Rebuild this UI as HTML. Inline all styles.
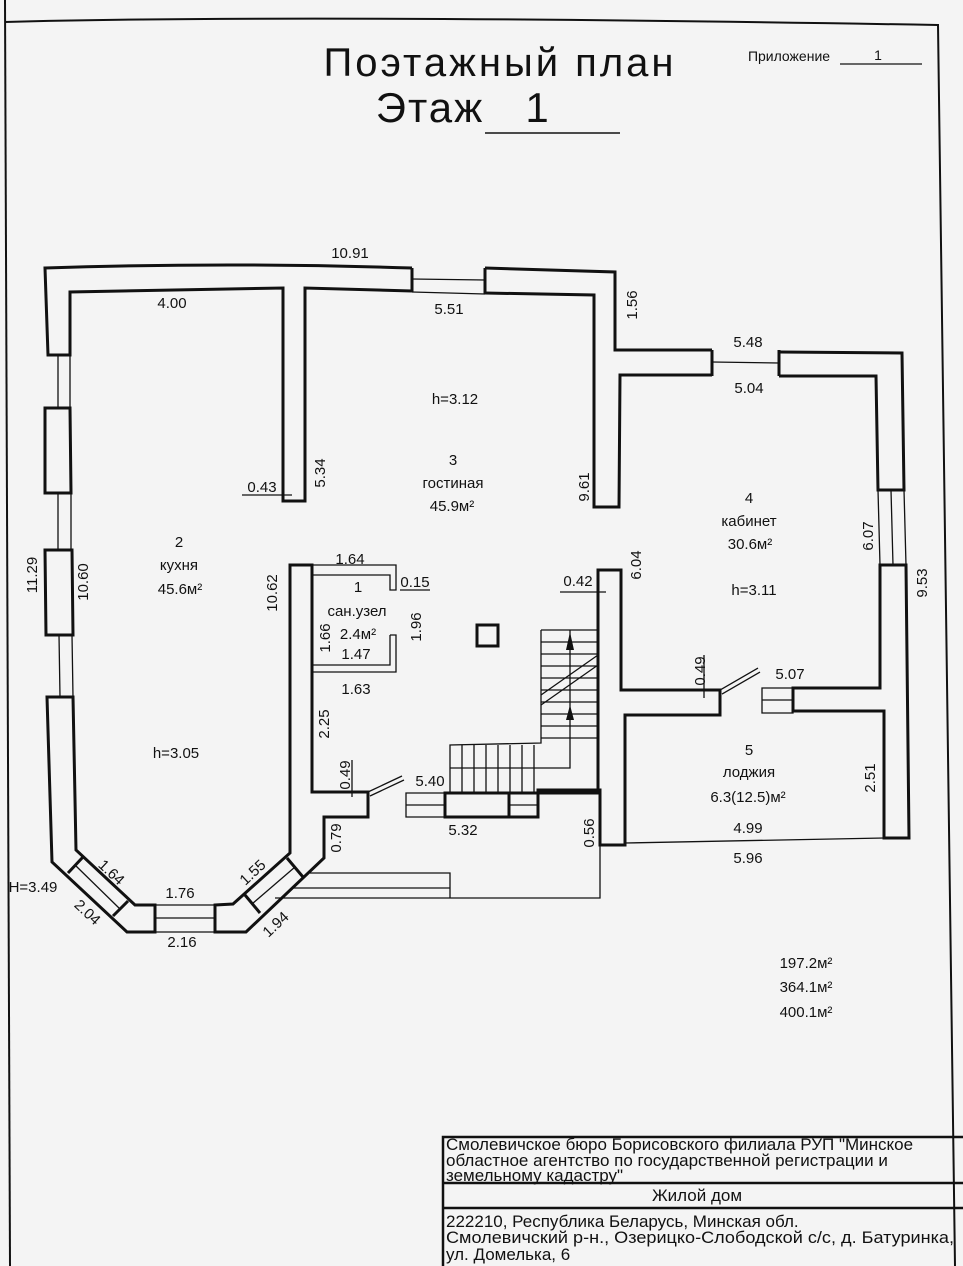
<!DOCTYPE html>
<html><head><meta charset="utf-8"><style>
html,body{margin:0;padding:0;background:#f4f4f4;}
svg{display:block}
text{font-family:"Liberation Sans","DejaVu Sans",sans-serif;fill:#111;}
.l{font-size:15px;text-anchor:middle}
.t{font-size:17px}
</style></head><body>
<svg width="963" height="1266" viewBox="0 0 963 1266" xmlns="http://www.w3.org/2000/svg">
<rect width="963" height="1266" fill="#f4f4f4"/>
<g fill="none" stroke="#111" stroke-width="2">
<path d="M5,0 L10,1266" /><path d="M5,22 Q300,14 938,25 L955,1266"/>
</g>
<!-- title -->
<text x="500" y="76" font-size="40" letter-spacing="3" text-anchor="middle" font-weight="300">Поэтажный план</text>
<text x="430" y="122" font-size="42" letter-spacing="2" text-anchor="middle">Этаж</text>
<text x="537" y="122" font-size="42" text-anchor="middle">1</text>
<line x1="485" y1="133" x2="620" y2="133" stroke="#111" stroke-width="1.5"/>
<text x="789" y="61" font-size="14" text-anchor="middle">Приложение</text>
<text x="878" y="60" font-size="14" text-anchor="middle">1</text>
<line x1="840" y1="64" x2="922" y2="64" stroke="#111" stroke-width="1.2"/>

<g fill="none" stroke="#111" stroke-width="3" stroke-linejoin="miter">
<path d="M412,268 Q230,262 45,268 L48,355 L70,355 L70,292 L283,288 L283,501 L305,501 L305,288 L412,291"/>
<path d="M485,268 L615,272 L615,350 L712,350"/>
<path d="M485,293 L594,295 L594,507 L619,507 L620,375 L712,375"/>
<path d="M779,352 L902,353 L904,490 L878,490 L876,376 L779,376"/>
<path d="M779,350 L779,376 M712,350 L712,376 M412,268 L412,292 M485,268 L485,294"/>
<path d="M45,408 L70,408 L71,493 L45,493 Z"/>
<path d="M45,550 L72,550 L73,635 L46,635 Z"/>
<path d="M47,697 L73,697 L76,850 L135,905 L155,905 L155,932 L127,932 L52,862 Z"/>
<path d="M215,905 L233,904 L290,853 L290,565 L312,565 L312,792 L368,792 L368,817 L324,817 L324,858 L246,932 L215,932 Z"/>
<path d="M68,873 L83,857 M113,916 L128,901 M245,895 L260,913 M287,858 L303,877"/>
<path d="M880,565 L906,565 L909,838 L884,838 L884,711 L793,711 L793,688 L880,688 Z"/>
<path d="M598,570 L621,570 L621,690 L720,690 L720,715 L625,715 L625,845 L600,845 L600,790 L538,790 L538,817 L509,817 L509,793 L598,793 Z"/>
<path d="M445,793 L509,793 L509,817 L445,817 Z"/>
</g>
<g fill="none" stroke="#111" stroke-width="1.3">
<path d="M412,279 L485,280 M412,292 L485,294"/>
<path d="M712,362 L779,363"/>
<path d="M58,355 L58,408 M70,355 L70,408 M58,493 L58,550 M71,493 L71,550 M59,635 L60,697 M72,635 L73,697"/>
<path d="M891,490 L893,565 M878,490 L880,565 M904,490 L906,565"/>
<path d="M155,905 L215,905 M155,918 L215,918 M155,932 L215,932"/>
<path d="M75,865 L120,909"/>
<path d="M252,904 L295,867"/>
<path d="M406,793 L445,793 L445,817 L406,817 Z M406,805 L445,805"/>
<path d="M509,805 L538,805"/>
<path d="M762,688 L793,688 L793,713 L762,713 Z M762,700 L793,700"/>
<path d="M368,792 L402,776 M370,796 L404,780"/>
<path d="M720,690 L758,668 M722,694 L760,672"/>
<path d="M625,843 L884,838"/>
<path d="M310,873 L450,873 L450,898 M292,888 L450,888 M275,898 L600,898 L600,845"/>
<path d="M312,565 L396,565 L396,590 L390,590 L390,575 L313,575"/>
<path d="M390,635 L396,635 L396,672 L313,672 M390,635 L390,665 L313,665"/>
<rect x="477" y="625" width="21" height="21" stroke-width="3"/>
<path d="M541,630 L598,630 M541,630 L541,743 L450,745 L450,792"/>
<path d="M541,642 L598,642 M541,654 L598,654 M541,666 L598,666 M541,678 L598,678 M541,690 L598,690 M541,702 L598,702 M541,714 L598,714 M541,726 L598,726 M541,738 L598,738"/>
<path d="M462,745 L462,792 M474,745 L474,792 M486,745 L486,792 M498,745 L498,792 M510,745 L510,792 M522,745 L522,792 M534,745 L534,792 M450,768 L570,768 L570,630"/>
<path d="M541,695 L598,655 M541,705 L598,665"/>
<path d="M242,495 L292,495 M400,590 L430,590 M560,592 L606,592 M690,690 L700,690"/>
<path d="M704,655 L704,698 M352,760 L352,797"/>
</g>
<path d="M570,632 L566,650 L574,650 Z M570,705 L566,720 L574,720 Z" fill="#111"/>

<g class="l">
<text x="350" y="258">10.91</text>
<text x="172" y="308">4.00</text>
<text x="449" y="314">5.51</text>
<text x="748" y="347">5.48</text>
<text x="749" y="393">5.04</text>
<text x="455" y="404">h=3.12</text>
<text x="453" y="465">3</text>
<text x="453" y="488">гостиная</text>
<text x="452" y="511">45.9м²</text>
<text x="262" y="492">0.43</text>
<text x="749" y="503">4</text>
<text x="749" y="526">кабинет</text>
<text x="750" y="549">30.6м²</text>
<text x="754" y="595">h=3.11</text>
<text x="578" y="586">0.42</text>
<text x="179" y="547">2</text>
<text x="179" y="570">кухня</text>
<text x="180" y="594">45.6м²</text>
<text x="350" y="564">1.64</text>
<text x="358" y="592">1</text>
<text x="415" y="587">0.15</text>
<text x="357" y="616">сан.узел</text>
<text x="358" y="639">2.4м²</text>
<text x="356" y="659">1.47</text>
<text x="356" y="694">1.63</text>
<text x="430" y="786">5.40</text>
<text x="463" y="835">5.32</text>
<text x="176" y="758">h=3.05</text>
<text x="790" y="679">5.07</text>
<text x="749" y="755">5</text>
<text x="749" y="777">лоджия</text>
<text x="748" y="802">6.3(12.5)м²</text>
<text x="748" y="833">4.99</text>
<text x="748" y="863">5.96</text>
<text x="33" y="892">H=3.49</text>
<text x="180" y="898">1.76</text>
<text x="182" y="947">2.16</text>
<text x="806" y="968">197.2м²</text>
<text x="806" y="992">364.1м²</text>
<text x="806" y="1017">400.1м²</text>
<text transform="translate(637,305) rotate(-90)">1.56</text>
<text transform="translate(325,473) rotate(-90)">5.34</text>
<text transform="translate(589,487) rotate(-90)">9.61</text>
<text transform="translate(873,536) rotate(-90)">6.07</text>
<text transform="translate(927,583) rotate(-90)">9.53</text>
<text transform="translate(641,565) rotate(-90)">6.04</text>
<text transform="translate(37,575) rotate(-90)">11.29</text>
<text transform="translate(88,582) rotate(-90)">10.60</text>
<text transform="translate(277,593) rotate(-90)">10.62</text>
<text transform="translate(330,638) rotate(-90)">1.66</text>
<text transform="translate(421,627) rotate(-90)">1.96</text>
<text transform="translate(329,724) rotate(-90)">2.25</text>
<text transform="translate(350,775) rotate(-90)">0.49</text>
<text transform="translate(341,838) rotate(-90)">0.79</text>
<text transform="translate(594,833) rotate(-90)">0.56</text>
<text transform="translate(705,671) rotate(-90)">0.49</text>
<text transform="translate(875,778) rotate(-90)">2.51</text>
<text transform="translate(108,876) rotate(43)">1.64</text>
<text transform="translate(84,916) rotate(43)">2.04</text>
<text transform="translate(256,876) rotate(-43)">1.55</text>
<text transform="translate(279,928) rotate(-43)">1.94</text>
</g>

<g fill="none" stroke="#111" stroke-width="2.5">
<path d="M443,1266 L443,1137 L963,1137 M443,1183 L963,1183 M443,1208 L963,1208"/>
</g>
<g class="t">
<text x="446" y="1150">Смолевичское бюро Борисовского филиала РУП "Минское</text>
<text x="446" y="1166">областное агентство по государственной регистрации и</text>
<text x="446" y="1181">земельному кадастру"</text>
<text x="697" y="1201" text-anchor="middle">Жилой дом</text>
<text x="446" y="1227">222210, Республика Беларусь, Минская обл.</text>
<text x="446" y="1243" textLength="508" lengthAdjust="spacingAndGlyphs">Смолевичский р-н., Озерицко-Слободской с/с, д. Батуринка,</text>
<text x="446" y="1260">ул. Домелька, 6</text>
</g>
</svg>
</body></html>
